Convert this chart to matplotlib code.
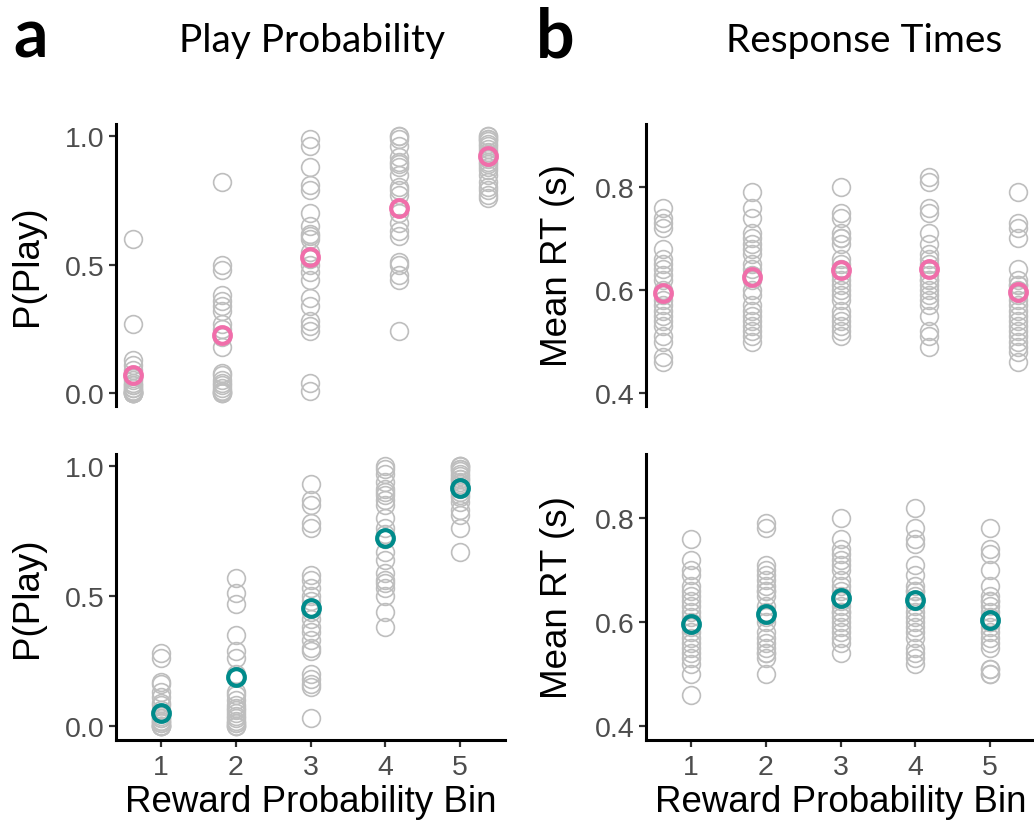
"""Play probability and response times per reward-probability bin (2x2 grid)."""
import matplotlib
matplotlib.use("Agg")
import matplotlib.pyplot as plt

BINS = [1, 2, 3, 4, 5]

# per-subject P(Play), one list per bin
play_top = [
    [0.60, 0.27, 0.13, 0.11, 0.09, 0.07, 0.06, 0.05, 0.04, 0.03, 0.03, 0.02, 0.02, 0.01, 0.01, 0.01, 0.00, 0.00, 0.00, 0.00, 0.00, 0.00],
    [0.82, 0.50, 0.48, 0.38, 0.36, 0.34, 0.32, 0.27, 0.25, 0.22, 0.18, 0.08, 0.07, 0.05, 0.04, 0.03, 0.02, 0.01, 0.01, 0.00, 0.00, 0.00],
    [0.99, 0.96, 0.88, 0.81, 0.79, 0.70, 0.65, 0.62, 0.61, 0.60, 0.55, 0.52, 0.50, 0.47, 0.44, 0.37, 0.34, 0.28, 0.26, 0.24, 0.04, 0.01],
    [1.00, 1.00, 0.99, 0.96, 0.92, 0.90, 0.89, 0.88, 0.85, 0.80, 0.79, 0.77, 0.72, 0.70, 0.66, 0.63, 0.61, 0.51, 0.50, 0.46, 0.44, 0.24],
    [1.00, 1.00, 0.99, 0.99, 0.98, 0.97, 0.96, 0.95, 0.94, 0.93, 0.92, 0.91, 0.90, 0.89, 0.88, 0.87, 0.85, 0.82, 0.80, 0.79, 0.77, 0.76],
]
play_top_mean = [0.07, 0.226, 0.528, 0.722, 0.924]

play_bottom = [
    [0.28, 0.26, 0.17, 0.16, 0.13, 0.11, 0.09, 0.08, 0.06, 0.05, 0.04, 0.03, 0.03, 0.02, 0.02, 0.01, 0.01, 0.00, 0.00, 0.00, 0.00, 0.00],
    [0.57, 0.51, 0.47, 0.35, 0.29, 0.26, 0.20, 0.13, 0.12, 0.10, 0.08, 0.07, 0.06, 0.05, 0.04, 0.03, 0.02, 0.01, 0.01, 0.00, 0.00, 0.00],
    [0.93, 0.87, 0.85, 0.78, 0.76, 0.58, 0.56, 0.53, 0.50, 0.48, 0.44, 0.41, 0.38, 0.36, 0.33, 0.30, 0.29, 0.20, 0.18, 0.16, 0.15, 0.03],
    [1.00, 0.99, 0.97, 0.94, 0.91, 0.90, 0.89, 0.87, 0.85, 0.80, 0.76, 0.74, 0.72, 0.67, 0.64, 0.59, 0.56, 0.55, 0.53, 0.50, 0.44, 0.38],
    [1.00, 1.00, 1.00, 0.99, 0.99, 0.98, 0.97, 0.96, 0.95, 0.95, 0.94, 0.93, 0.92, 0.91, 0.90, 0.89, 0.88, 0.86, 0.83, 0.81, 0.76, 0.67],
]
play_bottom_mean = [0.051, 0.19, 0.455, 0.724, 0.917]

# per-subject mean RT (s)
rt_top = [
    [0.76, 0.74, 0.73, 0.72, 0.68, 0.66, 0.65, 0.64, 0.63, 0.62, 0.60, 0.59, 0.58, 0.57, 0.56, 0.55, 0.54, 0.53, 0.51, 0.50, 0.47, 0.46],
    [0.79, 0.76, 0.74, 0.71, 0.70, 0.69, 0.68, 0.67, 0.65, 0.64, 0.63, 0.62, 0.60, 0.59, 0.57, 0.56, 0.55, 0.54, 0.53, 0.52, 0.51, 0.50],
    [0.80, 0.75, 0.74, 0.71, 0.70, 0.70, 0.69, 0.66, 0.65, 0.64, 0.63, 0.62, 0.61, 0.60, 0.59, 0.58, 0.56, 0.55, 0.54, 0.53, 0.52, 0.51],
    [0.82, 0.81, 0.76, 0.75, 0.71, 0.69, 0.67, 0.66, 0.65, 0.64, 0.63, 0.62, 0.62, 0.61, 0.60, 0.59, 0.58, 0.57, 0.55, 0.52, 0.51, 0.49],
    [0.79, 0.73, 0.72, 0.70, 0.64, 0.62, 0.61, 0.61, 0.60, 0.59, 0.58, 0.57, 0.56, 0.55, 0.54, 0.53, 0.52, 0.51, 0.50, 0.49, 0.48, 0.46],
]
rt_top_mean = [0.594, 0.625, 0.638, 0.641, 0.596]

rt_bottom = [
    [0.76, 0.72, 0.70, 0.69, 0.67, 0.66, 0.65, 0.64, 0.63, 0.62, 0.61, 0.60, 0.59, 0.58, 0.57, 0.56, 0.55, 0.54, 0.53, 0.52, 0.50, 0.46],
    [0.79, 0.78, 0.71, 0.70, 0.69, 0.68, 0.67, 0.66, 0.66, 0.65, 0.63, 0.62, 0.61, 0.60, 0.58, 0.57, 0.56, 0.55, 0.54, 0.54, 0.53, 0.50],
    [0.80, 0.76, 0.74, 0.73, 0.72, 0.71, 0.70, 0.68, 0.67, 0.66, 0.65, 0.64, 0.63, 0.62, 0.62, 0.61, 0.60, 0.59, 0.58, 0.57, 0.56, 0.54],
    [0.82, 0.78, 0.76, 0.75, 0.71, 0.69, 0.67, 0.66, 0.66, 0.65, 0.64, 0.63, 0.62, 0.61, 0.60, 0.59, 0.58, 0.57, 0.55, 0.54, 0.53, 0.52],
    [0.78, 0.74, 0.73, 0.70, 0.67, 0.65, 0.64, 0.64, 0.63, 0.62, 0.61, 0.60, 0.59, 0.58, 0.57, 0.56, 0.55, 0.51, 0.51, 0.50, 0.50, 0.60],
]
rt_bottom_mean = [0.597, 0.616, 0.646, 0.642, 0.603]

play_ticks = [0.0, 0.5, 1.0]
rt_ticks = [0.4, 0.6, 0.8]

GREY = "#BEBEBE"
PINK = "#F06EAA"
TEAL = "#008B8B"

plt.rcParams["font.family"] = ["Liberation Sans", "DejaVu Sans"]

W, H = 1034, 829
fig = plt.figure(figsize=(W / 100, H / 100), dpi=100)


def px_axes(x0, y0, x1, y1):
    return fig.add_axes([x0 / W, 1 - y1 / H, (x1 - x0) / W, (y1 - y0) / H])


def draw_panel(ax, subj, means, colour, ylim, yticks, bottom, ylabel):
    for b, vals in zip(BINS, subj):
        ax.plot([b] * len(vals), vals, ls="none", marker="o", ms=12.8,
                mfc="none", mec=GREY, mew=1.2, zorder=2, clip_on=False)
    ax.plot(BINS, means, ls="none", marker="o", ms=12, mfc="none",
            mec=colour, mew=3.0, zorder=3, clip_on=False)

    ax.set_ylim(*ylim)
    ax.set_yticks(yticks)
    ax.set_yticklabels([f"{t:.1f}" for t in yticks])
    ax.set_ylabel(ylabel, fontsize=26.5, labelpad=14)

    for s in ("top", "right"):
        ax.spines[s].set_visible(False)
    ax.spines["left"].set_linewidth(2.2)
    ax.tick_params(axis="both", length=5.3, width=1.6, color="#333333",
                   labelcolor="#4D4D4D", labelsize=20.5)
    ax.tick_params(axis="y", pad=3)

    if bottom:
        ax.set_xlim(0.4, 5.6)
        ax.set_xticks(BINS)
        ax.spines["bottom"].set_linewidth(2.2)
        ax.tick_params(axis="x", pad=5)
        ax.set_xlabel("Reward Probability Bin", fontsize=26.5, labelpad=3)
    else:
        ax.set_xlim(0.81, 5.19)
        ax.spines["bottom"].set_visible(False)
        ax.set_xticks([])


ax_a1 = px_axes(116, 125, 505, 407)
ax_a2 = px_axes(116, 455, 505, 741)
ax_b1 = px_axes(646, 125, 1035, 407)
ax_b2 = px_axes(646, 455, 1035, 741)

draw_panel(ax_a1, play_top, play_top_mean, PINK, (-0.05, 1.047), play_ticks, False, "P(Play)")
draw_panel(ax_a2, play_bottom, play_bottom_mean, TEAL, (-0.054, 1.046), play_ticks, True, "P(Play)")
draw_panel(ax_b1, rt_top, rt_top_mean, PINK, (0.375, 0.922), rt_ticks, False, "Mean RT (s)")
draw_panel(ax_b2, rt_bottom, rt_bottom_mean, TEAL, (0.373, 0.923), rt_ticks, True, "Mean RT (s)")

# panel letters and column titles
fig.text(13 / W, 1 - 58 / H, "a", family="Lato", fontweight="bold",
         fontsize=49, va="baseline", ha="left")
fig.text(536 / W, 1 - 58 / H, "b", family="Lato", fontweight="bold",
         fontsize=49, va="baseline", ha="left")
fig.text(312 / W, 1 - 52 / H, "Play Probability", family="Lato",
         fontsize=28, va="baseline", ha="center")
fig.text(864 / W, 1 - 52 / H, "Response Times", family="Lato",
         fontsize=28, va="baseline", ha="center")

fig.savefig("out.png", dpi=100)
